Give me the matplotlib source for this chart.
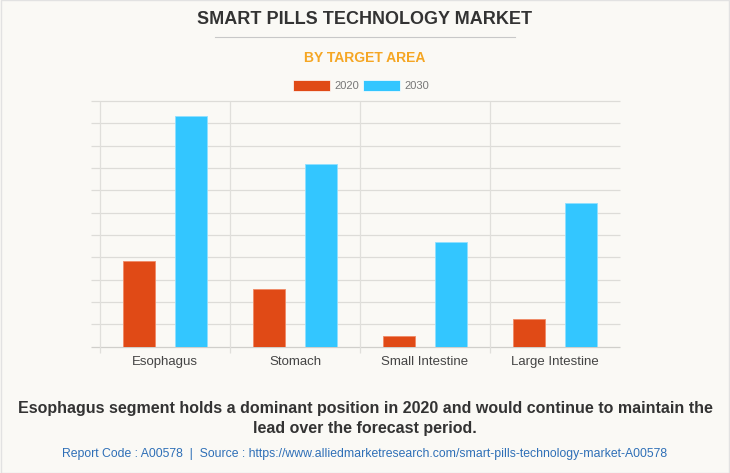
import matplotlib.pyplot as plt
import numpy as np
from matplotlib.patches import Rectangle
from matplotlib.lines import Line2D

# data (units = gridline steps)
categories = ["Esophagus", "Stomach", "Small Intestine", "Large Intestine"]
years = ["2020", "2030"]
values_2020 = [3.84, 2.58, 0.47, 1.24]
values_2030 = [10.33, 8.19, 4.67, 6.45]

colors = ["#e04a16", "#33c6ff"]
bg = "#faf9f5"

plt.rcParams['font.family'] = ['Liberation Sans', 'DejaVu Sans']

fig = plt.figure(figsize=(7.30, 4.73), dpi=100, facecolor=bg)
ax = fig.add_axes([100 / 730, 1 - 346.7 / 473, 520 / 730, 245.7 / 473])
ax.set_facecolor(bg)

x = np.arange(len(categories))
width = 0.245
ax.bar(x - 0.2, values_2020, width, color=colors[0], edgecolor="#f08a66", linewidth=0.6, zorder=3)
ax.bar(x + 0.2, values_2030, width, color=colors[1], edgecolor="#8fe0ff", linewidth=0.6, zorder=3)

ax.set_xlim(-0.5, 3.5)
ax.set_ylim(0, 11)

# horizontal gridlines, with little stubs on the left
for y in range(0, 12):
    ax.hlines(y, -0.57, 3.5, color="#dddcd8" if y else "#d0cfcb", linewidth=0.9, clip_on=False, zorder=1)
# vertical separators between categories
for xb in [-0.5, 0.5, 1.5, 2.5]:
    ax.vlines(xb, -0.28, 11, color="#e0dfdb", linewidth=0.9, clip_on=False, zorder=1)

for s in ax.spines.values():
    s.set_visible(False)
ax.set_yticks([])
ax.set_xticks(x)
ax.set_xticklabels(categories, fontsize=9.5, color="#444444")
ax.tick_params(axis="x", length=0, pad=7)

# titles
fig.text(0.5, 1 - 20 / 473, "SMART PILLS TECHNOLOGY MARKET", ha="center", va="center",
         fontsize=13, fontweight="bold", color="#333333")
fig.add_artist(Line2D([215 / 730, 515 / 730], [1 - 37 / 473] * 2, color="#c8c8c8", linewidth=0.8))
fig.text(0.5, 1 - 58 / 473, "BY TARGET AREA", ha="center", va="center",
         fontsize=10, fontweight="bold", color="#f5a623")

# legend
for i, (yr, c) in enumerate(zip(years, colors)):
    x0 = (293 + i * 70) / 730
    fig.add_artist(Rectangle((x0, 1 - 91 / 473), 37 / 730, 11 / 473, transform=fig.transFigure,
                             facecolor=c, edgecolor="#ffffff", linewidth=0.5))
    fig.text(x0 + 41 / 730, 1 - 86 / 473, yr, ha="left", va="center", fontsize=8, color="#777777")

# caption + source
fig.text(0.5, 1 - 408 / 473, "Esophagus segment holds a dominant position in 2020 and would continue to maintain the",
         ha="center", va="center", fontsize=11.5, fontweight="bold", color="#333333")
fig.text(0.5, 1 - 428 / 473, "lead over the forecast period.",
         ha="center", va="center", fontsize=11.5, fontweight="bold", color="#333333")
fig.text(0.5, 1 - 454 / 473,
         "Report Code : A00578  |  Source : https://www.alliedmarketresearch.com/smart-pills-technology-market-A00578",
         ha="center", va="center", fontsize=8.8, color="#2e6fb7")

fig.add_artist(Rectangle((0.001, 0.001), 0.998, 0.998, transform=fig.transFigure,
                         facecolor="none", edgecolor="#e2e2e2", linewidth=1))

fig.savefig("out.png", dpi=100, facecolor=bg)
